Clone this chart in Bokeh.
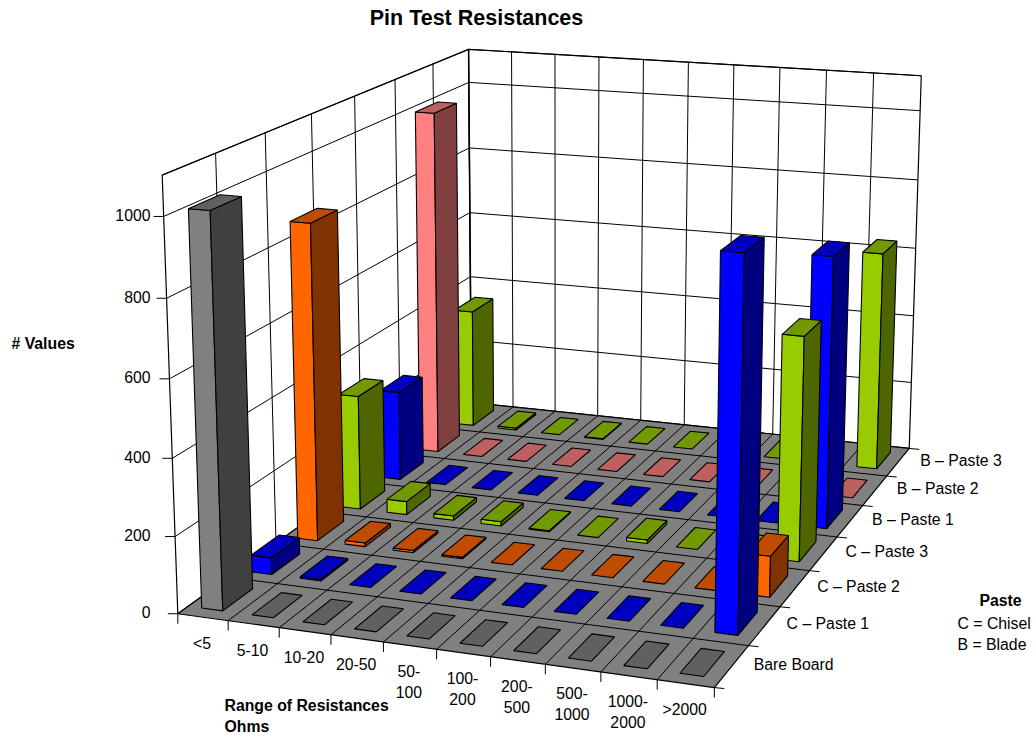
import numpy as np
from bokeh.plotting import figure
from bokeh.embed import file_html
from bokeh.resources import INLINE
from bokeh.core.properties import value

# Chart content
categories = ["<5", "5-10", "10-20", "20-50", "50-\n100", "100-\n200", "200-\n500", "500-\n1000", "1000-\n2000", ">2000"]
series_names = ["Bare Board", "C – Paste 1", "C – Paste 2", "C – Paste 3", "B – Paste 1", "B – Paste 2", "B – Paste 3"]
bare_board = [1010, 0, 0, 0, 0, 0, 0, 0, 0, 0]
c_paste_1 = [45, 4, 0, 0, 0, 0, 0, 0, 0, 945]
c_paste_2 = [860, 10, 6, 4, 0, 0, 0, 0, 0, 108]
c_paste_3 = [320, 37, 12, 12, 3, 0, 10, 0, 0, 603]
b_paste_1 = [255, 0, 0, 0, 0, 0, 0, 0, 0, 748]
b_paste_2 = [1000, 0, 0, 0, 0, 0, 0, 0, 0, 0]
b_paste_3 = [352, 6, 0, 2, 0, 0, 0, 0, 0, 630]
z_ticks = [0, 200, 400, 600, 800, 1000]
z_max = 1100

front_colors = ["#808080", "#0000FF", "#FF6600", "#99CC00", "#0000FF", "#FF8080", "#99CC00"]
side_colors = ["#404040", "#000080", "#803300", "#4D6600", "#000080", "#804040", "#4D6600"]
top_colors = ["#606060", "#0000BF", "#BF4C00", "#739900", "#0000BF", "#BF6060", "#739900"]
rows = [bare_board, c_paste_1, c_paste_2, c_paste_3, b_paste_1, b_paste_2, b_paste_3]

# Camera calibration: (category, row, z) -> page position, solved as a projective matrix
anchors = [
    (0, 0, 0, 178, 612), (1, 0, 0, 228, 620), (2, 0, 0, 279, 628), (3, 0, 0, 331, 635),
    (4, 0, 0, 383, 643), (5, 0, 0, 436, 649), (6, 0, 0, 490, 657), (7, 0, 0, 544, 664),
    (8, 0, 0, 600, 672), (9, 0, 0, 656, 679), (10, 0, 0, 713, 686),
    (10, 1, 0, 748, 645), (10, 2, 0, 780, 606), (10, 3, 0, 809, 570), (10, 4, 0, 837, 536),
    (10, 5, 0, 863, 505), (10, 6, 0, 887, 475), (10, 7, 0, 908, 448),
    (0, 7, 0, 470, 402), (0, 0, 1000, 163, 216), (0, 0, 800, 167, 297),
    (0, 0, z_max, 161, 174), (0, 7, z_max, 468, 49), (10, 7, z_max, 921, 76),
]


def solve_camera(points):
    eqs, rhs = [], []
    for x, y, z, u, v in points:
        z = z / 100.0
        eqs.append([x, y, z, 1, 0, 0, 0, 0, -u * x, -u * y, -u * z])
        rhs.append(u)
        eqs.append([0, 0, 0, 0, x, y, z, 1, -v * x, -v * y, -v * z])
        rhs.append(v)
    sol = np.linalg.lstsq(np.array(eqs, float), np.array(rhs, float), rcond=None)[0]
    return np.append(sol, 1.0).reshape(3, 4)


CAMERA = solve_camera(anchors)


def project(x, y, z):
    h = CAMERA @ np.array([x, y, z / 100.0, 1.0])
    return h[0] / h[2], h[1] / h[2]


def quad(points):
    pts = [project(*q) for q in points]
    return [a for a, _ in pts], [b for _, b in pts]


p = figure(width=1035, height=736, x_range=(0, 1035), y_range=(736, 0),
           output_backend="svg", toolbar_location=None, min_border=0,
           outline_line_color=None, background_fill_color="white", border_fill_color="white")
p.axis.visible = False
p.grid.visible = False

n_cat, n_row = len(categories), len(series_names)


def line(a, b, width=1.0):
    (x0, y0), (x1, y1) = project(*a), project(*b)
    p.line([x0, x1], [y0, y1], line_color="black", line_width=width)


# Walls and floor
for corners, fill in [
    ([(0, 0, 0), (0, n_row, 0), (0, n_row, z_max), (0, 0, z_max)], "white"),
    ([(0, n_row, 0), (n_cat, n_row, 0), (n_cat, n_row, z_max), (0, n_row, z_max)], "white"),
    ([(0, 0, 0), (n_cat, 0, 0), (n_cat, n_row, 0), (0, n_row, 0)], "#808080"),
]:
    xs, ys = quad(corners)
    p.patch(xs, ys, fill_color=fill, line_color="black", line_width=1.2)

# Wall grid
for z in z_ticks[1:] + [z_max]:
    line((0, 0, z), (0, n_row, z))
    line((0, n_row, z), (n_cat, n_row, z))
for r in range(1, n_row):
    line((0, r, 0), (0, r, z_max))
for c in range(1, n_cat):
    line((c, n_row, 0), (c, n_row, z_max))
line((0, n_row, 0), (0, n_row, z_max), 1.5)

# Floor grid
for c in range(1, n_cat):
    line((c, 0, 0), (c, n_row, 0))
for r in range(1, n_row):
    line((0, r, 0), (n_cat, r, 0))

# Tick marks just outside the floor and the front wall edge
for c in range(n_cat + 1):
    x0, y0 = project(c, 0, 0)
    p.line([x0, x0], [y0, y0 + 10], line_color="black", line_width=1)
for r in range(n_row + 1):
    x0, y0 = project(n_cat, r, 0)
    p.line([x0, x0 + 10], [y0, y0 + 1], line_color="black", line_width=1)
for z in z_ticks:
    x0, y0 = project(0, 0, z)
    p.line([x0 - 10, x0], [y0, y0], line_color="black", line_width=1)

# Bars, painted from the far row forward and from left to right
WIDTH_FRAC = 0.42
DEPTH_FRAC = 0.60
X_SHIFT = -0.02
bar_xs, bar_ys, bar_fill = [], [], []
for r in range(n_row - 1, -1, -1):
    for c in range(n_cat):
        v = rows[r][c]
        x0, x1 = c + X_SHIFT + (1 - WIDTH_FRAC) / 2, c + X_SHIFT + (1 + WIDTH_FRAC) / 2
        y0, y1 = r + (1 - DEPTH_FRAC) / 2, r + (1 + DEPTH_FRAC) / 2
        faces = [([(x0, y0, v), (x1, y0, v), (x1, y1, v), (x0, y1, v)], top_colors[r])]
        if v > 0:
            faces.insert(0, ([(x1, y0, 0), (x1, y1, 0), (x1, y1, v), (x1, y0, v)], side_colors[r]))
            faces.insert(0, ([(x0, y0, 0), (x1, y0, 0), (x1, y0, v), (x0, y0, v)], front_colors[r]))
        for corners, fill in faces:
            xs, ys = quad(corners)
            bar_xs.append(xs)
            bar_ys.append(ys)
            bar_fill.append(fill)
p.patches(bar_xs, bar_ys, fill_color=bar_fill, line_color="black", line_width=1.1)

FONT = value("Liberation Sans")


def label(x, y, text, size="15.8px", bold=False, align="left"):
    p.text([x], [y], text=[text], text_font=FONT, text_font_size=value(size),
           text_font_style="bold" if bold else "normal", text_align=align,
           text_baseline="middle", text_color="black")


label(476, 17, "Pin Test Resistances", size="21.5px", bold=True, align="center")
label(11, 343, "# Values", bold=True)
label(224, 705, "Range of Resistances", bold=True)
label(224, 726, "Ohms", bold=True)
label(1000, 600, "Paste", bold=True, align="center")
label(957, 623, "C = Chisel")
label(957, 644, "B = Blade")

for z in z_ticks:
    x0, y0 = project(0, 0, z)
    label(150, y0 - 1.5, str(z), align="right")

for c, name in enumerate(categories):
    x0, y0 = project(c + 0.5, 0, 0)
    parts = name.split("\n")
    if len(parts) == 1:
        label(x0 - 1, y0 + 26, parts[0], align="center")
    else:
        label(x0 - 1, y0 + 25, parts[0], align="center")
        label(x0 - 1, y0 + 46, parts[1], align="center")

for r, name in enumerate(series_names):
    x0, y0 = project(n_cat, r + 0.5, 0)
    label(x0 + 22, y0 - 2, name)

open("out.html", "w").write(file_html(p, INLINE))
